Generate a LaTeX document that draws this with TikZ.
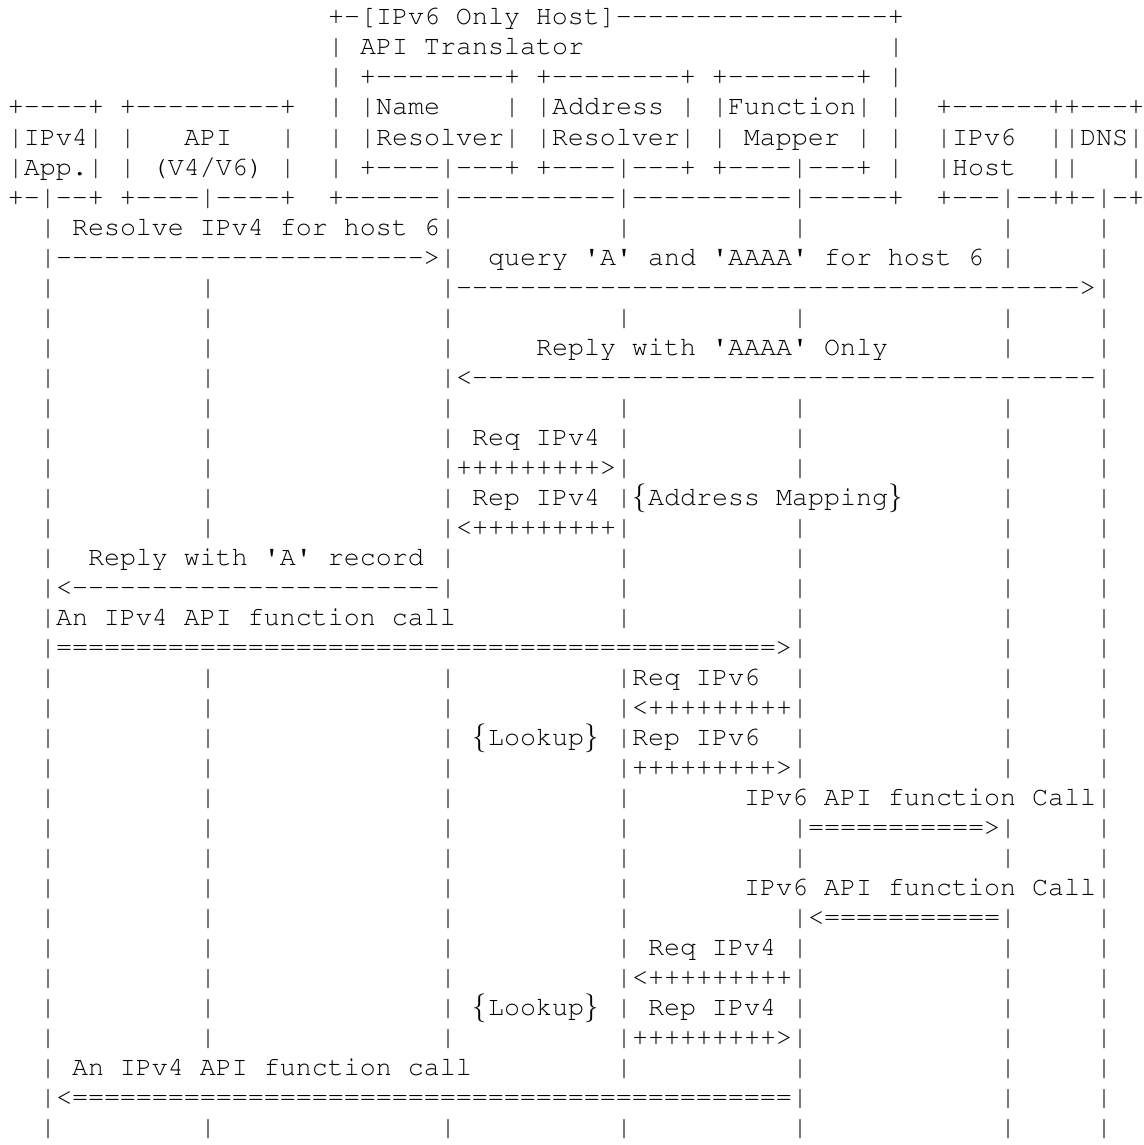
\documentclass[tikz,border=0pt]{standalone}

\newcommand{\asciifont}{\fontencoding{T1}\fontfamily{pcr}\fontseries{m}\fontshape{n}\fontsize{13.333pt}{15pt}\selectfont\frenchspacing}
\newcommand{\repchar}[2]{\foreach\k in {1,...,#1}{#2}}
\newcommand{\dashes}[1]{\repchar{#1}{-}}
\newcommand{\tick}{\textquotesingle}
\newcommand{\lbrc}{\makebox[8pt]{$\{$}}
\newcommand{\rbrc}{\makebox[8pt]{$\}$}}

\begin{document}
\begin{tikzpicture}[x=8pt, y=-15pt, shift={(0.5,-0.1667)}]
	\tikzstyle{Ascii} = [anchor=base west, inner sep=0pt, outer sep=0pt, font=\asciifont]
	\tikzstyle{Bar}   = [Ascii]

	\path[use as bounding box, fill=white] (-0.5,0.1667) rectangle (71,38.3333);

	% boxes on top
	\node (host) at (20,1) [Ascii] {+-[IPv6 Only Host]\dashes{17}+};
	\node (hostL) at (20,2) [Ascii] {|};
	\node (trans) at (22,2) [Ascii] {API Translator};
	\node (hostR) at (55,2) [Ascii] {|};
	\node (top3) at (20,3) [Ascii] {| +\dashes{8}+ +\dashes{8}+ +\dashes{8}+ |};

	\node (app1) at (0,4) [Ascii] {+\dashes{4}+ +\dashes{9}+};
	\node (name1) at (20,4) [Ascii] {| |Name};
	\node (addr1) at (31,4) [Ascii] {| |Address | |Function| |};
	\node (dns1) at (58,4) [Ascii] {+\dashes{6}++\dashes{3}+};

	\node (app2) at (0,5) [Ascii] {|IPv4| |};
	\node (api2) at (11,5) [Ascii] {API};
	\node (apiR2) at (17,5) [Ascii] {|};
	\node (name2) at (20,5) [Ascii] {| |Resolver| |Resolver| | Mapper | |};
	\node (v6h2) at (58,5) [Ascii] {|IPv6};
	\node (dns2) at (65,5) [Ascii] {||DNS|};

	\node (app3) at (0,6) [Ascii] {|App.| | (V4/V6) |};
	\node (name3) at (20,6) [Ascii] {| +\dashes{4}|\dashes{3}+ +\dashes{4}|\dashes{3}+ +\dashes{4}|\dashes{3}+ |};
	\node (v6h3) at (58,6) [Ascii] {|Host};
	\node (dns3) at (65,6) [Ascii] {||};
	\node (dnsR3) at (70,6) [Ascii] {|};

	\node (app4) at (0,7) [Ascii] {+-|\dashes{2}+ +\dashes{4}|\dashes{4}+};
	\node (host4) at (20,7) [Ascii] {+\dashes{6}|\dashes{10}|\dashes{10}|\dashes{5}+};
	\node (dns4) at (58,7) [Ascii] {+\dashes{3}|\dashes{2}++-|-+};

	% life lines
	\foreach \r/\cols in {8/{2,27,38,49,62,68}, 9/{2,27,62,68}, 10/{2,12,27,68},
			11/{2,12,27,38,49,62,68}, 12/{2,12,27,62,68}, 13/{2,12,27,68},
			14/{2,12,27,38,49,62,68}, 15/{2,12,27,38,49,62,68}, 16/{2,12,27,38,49,62,68},
			17/{2,12,27,38,62,68}, 18/{2,12,27,38,49,62,68},
			19/{2,27,38,49,62,68}, 20/{2,27,38,49,62,68}, 21/{2,38,49,62,68}, 22/{2,49,62,68},
			23/{2,12,27,38,49,62,68}, 24/{2,12,27,38,49,62,68}, 25/{2,12,27,38,49,62,68},
			26/{2,12,27,38,49,62,68}, 27/{2,12,27,38,68}, 28/{2,12,27,38,49,62,68},
			29/{2,12,27,38,49,62,68}, 30/{2,12,27,38,68}, 31/{2,12,27,38,49,62,68},
			32/{2,12,27,38,49,62,68}, 33/{2,12,27,38,49,62,68}, 34/{2,12,27,38,49,62,68},
			35/{2,12,27,38,49,62,68}, 36/{2,38,49,62,68}, 37/{2,49,62,68},
			38/{2,12,27,38,49,62,68}}
		\foreach \c in \cols
			\node (b\r-\c) at (\c,\r) [Bar] {|};

	% messages
	\node (m1) at (4,8) [Ascii] {Resolve IPv4 for host 6};
	\node (m1a) at (3,9) [Ascii] {\dashes{23}>};
	\node (m2) at (30,9) [Ascii] {query \tick A\tick{} and \tick AAAA\tick{} for host 6};
	\node (m2a) at (28,10) [Ascii] {\dashes{39}>};
	\node (m3) at (33,12) [Ascii] {Reply with \tick AAAA\tick{} Only};
	\node (m3a) at (28,13) [Ascii] {<\dashes{39}};

	\node (m4) at (29,15) [Ascii] {Req IPv4};
	\node (m4a) at (28,16) [Ascii] {\repchar{9}{+}>};
	\node (m5) at (29,17) [Ascii] {Rep IPv4};
	\node (map) at (39,17) [Ascii] {\lbrc Address Mapping\rbrc};
	\node (m5a) at (28,18) [Ascii] {<\repchar{9}{+}};

	\node (m6) at (5,19) [Ascii] {Reply with \tick A\tick{} record};
	\node (m6a) at (3,20) [Ascii] {<\dashes{23}};
	\node (m7) at (3,21) [Ascii] {An IPv4 API function call};
	\node (m7a) at (3,22) [Ascii] {\repchar{45}{=}>};

	\node (m8) at (39,23) [Ascii] {Req IPv6};
	\node (m8a) at (39,24) [Ascii] {<\repchar{9}{+}};
	\node (look1) at (29,25) [Ascii] {\lbrc Lookup\rbrc};
	\node (m9) at (39,25) [Ascii] {Rep IPv6};
	\node (m9a) at (39,26) [Ascii] {\repchar{9}{+}>};

	\node (m10) at (46,27) [Ascii] {IPv6 API function Call};
	\node (m10a) at (50,28) [Ascii] {\repchar{11}{=}>};
	\node (m11) at (46,30) [Ascii] {IPv6 API function Call};
	\node (m11a) at (50,31) [Ascii] {<\repchar{11}{=}};

	\node (m12) at (40,32) [Ascii] {Req IPv4};
	\node (m12a) at (39,33) [Ascii] {<\repchar{9}{+}};
	\node (look2) at (29,34) [Ascii] {\lbrc Lookup\rbrc};
	\node (m13) at (40,34) [Ascii] {Rep IPv4};
	\node (m13a) at (39,35) [Ascii] {\repchar{9}{+}>};

	\node (m14) at (4,36) [Ascii] {An IPv4 API function call};
	\node (m14a) at (3,37) [Ascii] {<\repchar{45}{=}};
\end{tikzpicture}
\end{document}
